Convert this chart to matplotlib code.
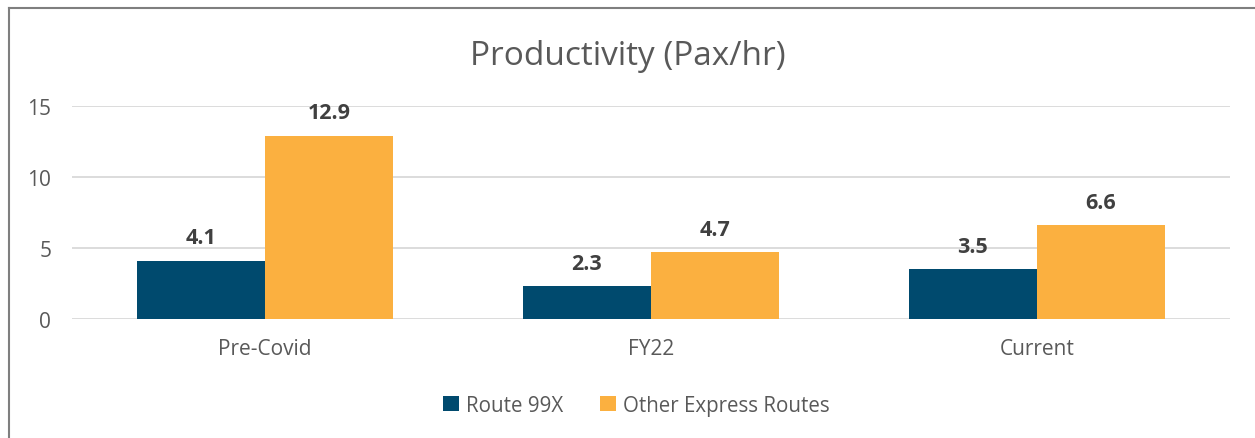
import matplotlib.pyplot as plt
import numpy as np
from matplotlib.lines import Line2D

categories = ['Pre-Covid', 'FY22', 'Current']
route_99x = [4.1, 2.3, 3.5]
other_express = [12.9, 4.7, 6.6]
series_names = ['Route 99X', 'Other Express Routes']

blue = '#004a6e'
orange = '#fbb040'
plt.rcParams['font.family'] = ['Open Sans', 'DejaVu Sans']

fig = plt.figure(figsize=(12.55, 4.39), dpi=100)
ax = fig.add_axes([0.0574, 0.271, 0.9226, 0.485])

x = np.arange(len(categories))
w = 0.332
b1 = ax.bar(x - w / 2, route_99x, w, color=blue, label=series_names[0], zorder=3)
b2 = ax.bar(x + w / 2, other_express, w, color=orange, label=series_names[1], zorder=3)

for bars, vals in [(b1, route_99x), (b2, other_express)]:
    for r, v in zip(bars, vals):
        ax.text(r.get_x() + r.get_width() / 2, v + 0.9, '%.1f' % v,
                ha='center', va='bottom', fontsize=15.5, fontweight='bold', color='#404040')

ax.set_xlim(-0.5, 2.5)
ax.set_ylim(0, 15)
ax.set_yticks([0, 5, 10, 15])
ax.yaxis.grid(True, color='#d9d9d9', linewidth=1.3, zorder=0)
ax.set_axisbelow(True)
for s in ax.spines.values():
    s.set_visible(False)
ax.tick_params(length=0, labelsize=15, labelcolor='#595959')
ax.tick_params(axis='y', pad=15)
ax.tick_params(axis='x', pad=14)
ax.set_xticks(x)
ax.set_xticklabels(categories)

fig.text(0.5, 0.872, 'Productivity (Pax/hr)', ha='center', va='center',
         fontsize=24, color='#595959')

ax.legend(loc='center', bbox_to_anchor=(0.507, 0.074), bbox_transform=fig.transFigure,
          ncol=2, frameon=False, fontsize=14.8, labelcolor='#595959',
          handlelength=0.75, handleheight=0.75, columnspacing=1.8, handletextpad=0.35)

# chart border (top and left visible)
fig.add_artist(Line2D([0.0068, 1.0], [1 - 8.5 / 439, 1 - 8.5 / 439], transform=fig.transFigure,
                      color='#7f7f7f', linewidth=1.5))
fig.add_artist(Line2D([8.5 / 1255, 8.5 / 1255], [0, 1 - 8.5 / 439], transform=fig.transFigure,
                      color='#7f7f7f', linewidth=1.5))

fig.savefig('out.png', dpi=100)
